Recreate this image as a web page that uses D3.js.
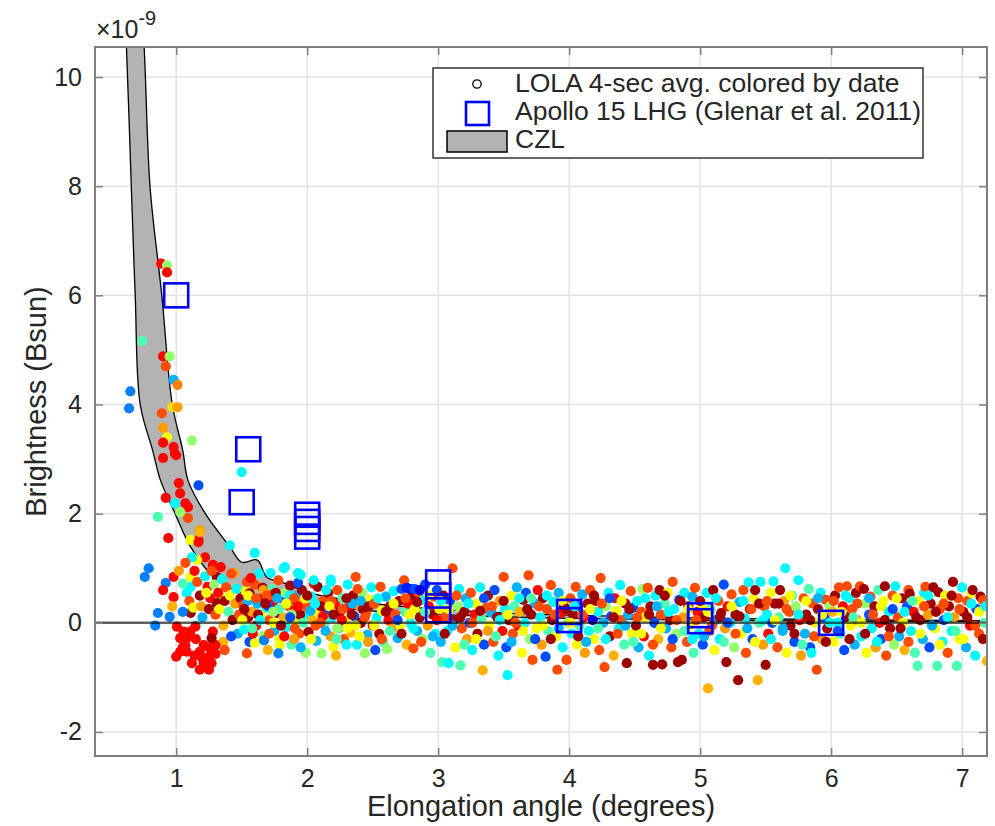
<!DOCTYPE html>
<html>
<head>
<meta charset="utf-8">
<script src="https://cdn.jsdelivr.net/npm/d3@7"></script>
<style>
  html, body { margin: 0; padding: 0; background: #fff; }
  svg text { font-family: "Liberation Sans", Arial, Helvetica, sans-serif; fill: #262626; }
</style>
</head>
<body>
<svg id="chart" width="995" height="826"></svg>
<script>
/* ---------- data (brightness in units of 1e-9 Bsun) ---------- */

const xTicks = [1, 2, 3, 4, 5, 6, 7];
const yTicks = [-2, 0, 2, 4, 6, 8, 10];

// CZL envelope: upper and lower boundary
const czlUpX = [0.70, 0.755, 0.80, 0.89, 0.97, 1.05, 1.09, 1.22, 1.41, 1.50, 1.62, 1.69, 1.82, 2.02, 2.3, 2.6, 3.0, 3.5, 4.0, 5.0, 6.0, 7.3];
const czlUpY = [12.5, 10.55, 8.0, 6.0, 4.0, 3.16, 2.61, 2.01, 1.39, 1.11, 1.15, 0.84, 0.73, 0.55, 0.42, 0.33, 0.25, 0.18, 0.14, 0.09, 0.06, 0.04];
const czlLoX = [0.58, 0.62, 0.657, 0.687, 0.725, 0.82, 0.88, 0.99, 1.11, 1.31, 1.5, 1.7, 2.0, 2.3, 2.6, 3.0, 3.5, 4.0, 5.0, 6.0, 7.3];
const czlLoY = [12.5, 10.55, 8.0, 6.0, 4.0, 3.16, 2.61, 2.01, 1.39, 0.78, 0.55, 0.42, 0.33, 0.26, 0.20, 0.15, 0.11, 0.08, 0.05, 0.03, 0.02];

// Apollo 15 LHG
const apolloX = [1.0, 1.55, 1.5, 2.0, 2.0, 2.0, 2.0, 3.0, 3.0, 3.0, 4.0, 4.0, 5.0, 5.0, 6.0];
const apolloY = [6.0, 3.18, 2.21, 1.98, 1.85, 1.72, 1.58, 0.74, 0.5, 0.23, 0.2, 0.05, 0.14, 0.03, 0.0];

// LOLA 4-sec averages: [elongation, brightness, date (0..1 on jet map)]
const lolaNear = [
  [0.65,4.24,0.25],[0.64,3.93,0.25],[0.74,5.16,0.45],[0.885,6.58,0.87],[0.93,6.55,0.52],[0.93,6.42,0.87],
  [0.9,4.88,0.87],[0.95,4.88,0.52],[0.92,4.7,0.8],[0.98,4.45,0.3],[1.01,4.36,0.75],[0.89,3.84,0.8],
  [0.97,3.95,0.66],[1.01,3.95,0.72],[0.9,3.57,0.72],[0.93,3.4,0.62],[1.12,3.34,0.52],[0.9,3.3,0.87],
  [0.98,3.22,0.87],[1.0,3.07,0.87],[0.9,3.02,0.87],[0.99,3.1,0.87],[1.5,2.76,0.37],[1.02,2.56,0.87],
  [1.17,2.52,0.2],[1.03,2.37,0.87],[0.92,2.29,0.87],[0.86,1.94,0.45],[1.07,2.19,0.87],[1.09,2.12,0.87],
  [1.09,1.92,0.8],[0.99,2.19,0.37],[1.03,2.03,0.52],[1.18,1.7,0.72],[0.94,1.55,0.87],[1.17,1.52,0.87],
  [1.11,1.52,0.62],[1.41,1.42,0.37],[1.6,1.28,0.37],[0.79,1.0,0.25],[0.76,0.84,0.25],[0.98,0.84,0.87],
  [1.11,0.84,0.62],[1.22,1.2,0.87],[1.28,1.06,0.87],[1.34,1.02,0.87],[1.31,0.84,0.97],[1.16,1.15,0.62],
  [1.12,1.2,0.37],[0.92,0.73,0.25],[1.11,0.66,0.37],[1.24,0.66,0.87],[1.26,0.45,0.87],[1.34,0.47,0.62],
  [1.31,0.36,0.97],[0.98,0.47,0.87],[0.86,0.18,0.25],[0.95,0.11,0.25],[1.11,0.18,0.97],[1.44,0.91,0.72],
  [1.02,0.95,0.72],[1.05,0.72,0.45],[1.08,0.55,0.37],[1.1,0.4,0.8],[1.13,0.28,0.62],[1.14,0.95,0.87],
  [1.16,0.75,0.8],[1.18,0.5,0.97],[1.19,0.3,0.72],[1.2,0.1,0.3],[1.22,0.85,0.37],[1.23,0.55,0.62],
  [1.25,0.25,0.97],[1.27,0.95,0.8],[1.29,0.7,0.52],[1.3,0.15,0.8],[1.32,0.55,0.87],[1.33,0.25,0.62],
  [1.35,0.8,0.37],[1.36,-0.05,0.7],[1.37,0.4,0.97],[1.38,0.65,0.8],[1.4,0.2,0.45],[1.41,0.5,0.62],
  [1.42,0.9,0.8],[1.43,0.05,0.97],[1.45,0.35,0.72],[1.46,0.62,0.37],[1.47,-0.2,0.3],[1.48,0.15,0.8],
  [1.49,0.45,0.97],[1.15,-0.05,0.37],[1.36,-0.35,0.7],[1.42,-0.25,0.2],[1.37,-0.5,0.8],[0.97,0.3,0.7],
  [1.05,0.2,0.25],[0.9,0.6,0.87],[0.84,-0.05,0.25],[1.07,1.1,0.8],[1.18,1.66,0.7],[1.17,1.48,0.87],
  [1.005,-0.07,0.87],[1.056,-0.16,0.87],[1.107,-0.16,0.87],[1.145,-0.07,0.87],[1.03,-0.28,0.87],
  [1.08,-0.28,0.87],[1.07,-0.41,0.87],[1.03,-0.53,0.87],[1.08,-0.53,0.87],[1.0,-0.62,0.87],
  [1.21,-0.41,0.87],[1.25,-0.45,0.87],[1.3,-0.41,0.87],[1.18,-0.53,0.87],[1.25,-0.62,0.87],
  [1.3,-0.57,0.87],[1.21,-0.74,0.87],[1.27,-0.74,0.87],[1.18,-0.86,0.87],[1.25,-0.86,0.87],
  [1.12,-0.74,0.87],[1.28,-0.16,0.87],[1.27,-0.28,0.97],[1.15,-0.3,0.87],[1.2,-0.65,0.87],
  [1.23,-0.8,0.87],[1.14,-0.6,0.87],[1.05,-0.45,0.87]
];

const lolaMid = [
  [1.51,0.32,0.8],[1.52,-0.12,0.37],[1.53,0.58,0.62],[1.55,0.1,0.97],[1.56,-0.35,0.2],[1.57,0.44,0.45],
  [1.58,0.2,0.72],[1.6,0.7,0.8],[1.61,-0.05,0.87],[1.62,0.35,0.3],[1.63,0.9,0.37],[1.65,0.15,0.62],
  [1.66,-0.25,0.52],[1.67,0.48,0.97],[1.69,0.28,0.37],[1.7,-0.5,0.7],[1.71,0.05,0.8],[1.73,0.62,0.45],
  [1.74,0.38,0.87],[1.75,-0.15,0.3],[1.77,0.18,0.97],[1.78,0.78,0.8],[1.79,-0.3,0.62],[1.8,0.45,0.2],
  [1.82,0.1,0.7],[1.83,0.55,0.52],[1.84,-0.08,0.37],[1.86,0.3,0.8],[1.87,0.68,0.97],[1.88,-0.4,0.45],
  [1.9,0.22,0.87],[1.91,0.02,0.62],[1.92,0.5,0.3],[1.94,-0.2,0.8],[1.95,0.38,0.72],[1.96,0.6,0.97],
  [1.98,0.12,0.37],[1.99,-0.55,0.52],[2.0,0.28,0.8],[2.01,-0.17,0.97],[2.03,0.48,0.37],[2.04,0.05,0.7],
  [2.05,0.72,0.87],[2.07,-0.33,0.3],[2.08,0.66,0.97],[2.09,0.18,0.62],[2.11,-0.56,0.52],[2.12,0.4,0.8],
  [2.13,-0.02,0.45],[2.15,0.25,0.2],[2.16,0.55,0.97],[2.18,-0.25,0.72],[2.19,0.1,0.37],[2.2,-0.44,0.62],
  [2.21,0.35,0.87],[2.23,0.6,0.8],[2.24,-0.1,0.3],[2.25,0.2,0.97],[2.27,0.45,0.45],[2.28,-0.3,0.8],
  [2.29,0.05,0.62],[2.31,0.7,0.37],[2.32,0.28,0.87],[2.33,-0.18,0.7],[2.35,0.5,0.97],[2.36,0.12,0.2],
  [2.37,0.84,0.8],[2.38,-0.4,0.37],[2.4,0.3,0.72],[2.41,0.0,0.97],[2.42,0.55,0.52],[2.44,-0.56,0.52],
  [2.45,0.18,0.8],[2.46,-0.22,0.3],[2.48,0.42,0.62],[2.49,0.65,0.37],[2.5,-0.05,0.87],
  [1.54,-0.56,0.8],[1.6,-0.37,0.62],[1.79,-0.41,0.62],[1.78,-0.56,0.25],[1.67,-0.32,0.25],
  [1.93,0.73,0.2],[2.05,0.78,0.37],[2.18,0.75,0.37],[1.82,1.0,0.37],[1.93,0.91,0.37],
  [1.72,0.91,0.37],[1.54,0.75,0.8],[1.66,0.64,0.97],[1.72,0.51,0.8],[1.56,0.54,0.97],[1.83,1.02,0.37],
  [1.95,0.88,0.37],[2.18,0.79,0.37],
  [1.505,0.05,0.62],[1.545,0.4,0.3],[1.585,-0.2,0.87],[1.625,0.15,0.97],[1.665,0.6,0.72],[1.705,0.3,0.2],
  [1.745,0.0,0.62],[1.785,0.25,0.45],[1.825,-0.25,0.87],[1.865,0.5,0.37],[1.905,-0.1,0.8],[1.945,0.15,0.97],
  [1.985,0.45,0.62],[2.025,0.22,0.3],[2.065,-0.05,0.8],[2.105,0.3,0.97],[2.145,0.6,0.37],[2.185,0.4,0.8],
  [2.225,-0.3,0.45],[2.265,0.05,0.87],[2.305,-0.1,0.62],[2.345,0.35,0.3],[2.385,0.62,0.8],[2.425,0.25,0.97],
  [2.465,-0.35,0.72],[1.57,0.82,0.87],[1.69,0.5,0.8],[1.76,0.55,0.97],[1.9,0.45,0.8],[2.12,0.12,0.87],
  [2.3,0.45,0.97],[2.22,-0.6,0.7],[1.95,-0.45,0.3],[1.88,0.15,0.52],[2.4,-0.25,0.62],
  [1.52,0.25,0.97],[1.55,0.5,0.62],[1.58,-0.1,0.45],[1.61,0.45,0.8],[1.64,0.05,0.37],[1.68,0.35,0.97],
  [1.71,-0.2,0.8],[1.74,0.2,0.52],[1.77,0.45,0.3],[1.8,-0.05,0.97],[1.84,0.35,0.62],[1.87,0.1,0.2],
  [1.9,-0.3,0.72],[1.93,0.3,0.87],[1.97,0.0,0.45],[2.0,0.5,0.97],[2.03,-0.3,0.62],[2.06,0.35,0.37],
  [2.1,0.0,0.8],[2.14,-0.15,0.3],[2.17,0.3,0.62],[2.2,0.15,0.97],[2.23,-0.1,0.52],[2.27,0.25,0.8],
  [2.3,-0.4,0.37],[2.34,0.15,0.97],[2.37,-0.05,0.62],[2.41,0.4,0.3],[2.44,0.1,0.8],[2.47,0.3,0.97]
];

const lolaFarA = [
  [2.51,0.35,0.8],[2.52,-0.5,0.2],[2.53,0.1,0.37],[2.55,-0.2,0.97],[2.56,0.66,0.8],[2.57,0.22,0.62],
  [2.58,-0.35,0.45],[2.6,0.48,0.3],[2.61,-0.48,0.52],[2.62,0.05,0.87],[2.63,0.3,0.97],[2.65,-0.1,0.72],
  [2.66,0.58,0.37],[2.67,0.15,0.8],[2.69,-0.28,0.3],[2.7,0.4,0.97],[2.71,-0.05,0.62],[2.72,0.62,0.2],
  [2.74,0.78,0.8],[2.75,0.2,0.45],[2.76,-0.4,0.7],[2.77,0.35,0.87],[2.79,0.0,0.37],[2.8,0.5,0.97],
  [2.81,-0.47,0.8],[2.82,0.25,0.62],[2.84,-0.15,0.3],[2.85,0.55,0.8],[2.86,0.1,0.97],[2.88,-0.3,0.52],
  [2.89,0.42,0.37],[2.9,0.7,0.2],[2.92,-0.05,0.72],[2.93,0.3,0.87],[2.94,-0.55,0.45],[2.96,0.15,0.97],
  [2.97,0.48,0.8],[2.98,-0.2,0.37],[2.99,0.6,0.2],[2.76,0.64,0.15],[2.79,0.62,0.15],[2.82,0.62,0.2],
  [2.86,0.6,0.1],
  [3.01,0.25,0.62],[3.02,-0.35,0.3],[3.03,-0.72,0.45],[3.04,0.5,0.97],[3.05,0.1,0.8],[3.07,-0.15,0.37],
  [3.08,-0.74,0.37],[3.09,0.4,0.2],[3.11,1.0,0.8],[3.12,0.05,0.97],[3.13,-0.45,0.62],[3.15,0.3,0.52],
  [3.16,0.62,0.37],[3.17,-0.78,0.45],[3.18,-0.1,0.8],[3.2,0.2,0.97],[3.21,0.45,0.3],[3.22,-0.3,0.72],
  [3.24,0.0,0.2],[3.25,0.55,0.8],[3.26,-0.5,0.37],[3.28,0.15,0.87],[3.29,0.35,0.62],[3.3,-0.2,0.97],
  [3.32,0.65,0.37],[3.33,0.08,0.45],[3.34,-0.87,0.7],[3.35,-0.4,0.2],[3.37,0.28,0.8],[3.38,0.5,0.97],
  [3.39,-0.05,0.62],[3.41,0.18,0.3],[3.42,-0.35,0.8],[3.43,0.6,0.2],[3.45,0.1,0.97],[3.46,-0.6,0.37],
  [3.47,0.4,0.72],[3.49,-0.15,0.87],[3.5,0.84,0.8],
  [3.51,0.25,0.37],[3.52,-0.45,0.2],[3.53,-0.96,0.37],[3.54,0.05,0.97],[3.56,0.5,0.62],[3.57,-0.2,0.8],
  [3.58,0.3,0.45],[3.6,0.65,0.3],[3.61,-0.05,0.87],[3.62,0.2,0.7],[3.64,-0.55,0.62],[3.65,0.42,0.97],
  [3.66,0.0,0.37],[3.67,0.55,0.2],[3.69,0.87,0.8],[3.7,-0.3,0.52],[3.71,0.15,0.97],[3.72,-0.68,0.8],
  [3.74,0.35,0.3],[3.75,-0.1,0.62],[3.76,0.6,0.87],[3.78,0.1,0.37],[3.79,-0.4,0.72],[3.8,0.45,0.97],
  [3.82,-0.62,0.2],[3.83,0.25,0.8],[3.84,-0.15,0.45],[3.86,0.69,0.8],[3.87,0.05,0.97],[3.88,0.38,0.37],
  [3.9,-0.25,0.62],[3.91,-0.86,0.8],[3.92,0.55,0.3],[3.94,0.18,0.87],[3.95,-0.45,0.37],[3.96,0.3,0.97],
  [3.98,-0.68,0.8],[3.99,0.0,0.52],
  [2.51,-0.05,0.62],[2.54,0.45,0.37],[2.57,-0.3,0.8],[2.6,0.2,0.97],[2.63,-0.15,0.45],[2.66,0.35,0.62],
  [2.69,0.05,0.2],[2.72,-0.2,0.97],[2.75,0.45,0.8],[2.78,0.15,0.62],[2.81,-0.1,0.37],[2.84,0.38,0.97],
  [2.87,-0.35,0.8],[2.9,0.2,0.45],[2.93,0.5,0.62],[2.96,-0.25,0.3],[2.99,0.05,0.87],[3.02,0.4,0.37],
  [3.05,-0.2,0.97],[3.08,0.25,0.62],[3.11,-0.05,0.3],[3.14,0.5,0.8],[3.17,0.1,0.97],[3.2,-0.4,0.45],
  [3.23,0.35,0.37],[3.26,0.0,0.8],[3.29,-0.3,0.62],[3.32,0.22,0.97],[3.35,0.45,0.2],[3.38,-0.15,0.72],
  [3.41,0.3,0.8],[3.44,-0.25,0.45],[3.47,0.05,0.37],[3.5,0.4,0.97],[3.53,0.15,0.62],[3.56,-0.35,0.3],
  [3.59,0.0,0.8],[3.62,0.45,0.37],[3.65,-0.15,0.62],[3.68,0.25,0.97],[3.71,0.45,0.45],[3.74,-0.3,0.2],
  [3.77,0.3,0.8],[3.8,-0.05,0.62],[3.83,0.5,0.37],[3.86,-0.3,0.97],[3.89,0.15,0.8],[3.92,-0.1,0.3],
  [3.95,0.4,0.62],[3.98,0.25,0.97]
];

const lolaFarB = [
  [4.01,0.45,0.8],[4.02,-0.2,0.37],[4.03,0.15,0.97],[4.05,0.66,0.8],[4.06,-0.4,0.62],[4.07,0.3,0.2],
  [4.08,-0.05,0.45],[4.1,0.52,0.3],[4.11,0.1,0.87],[4.12,-0.55,0.72],[4.14,0.35,0.97],[4.15,-0.15,0.37],
  [4.16,0.6,0.8],[4.18,0.05,0.1],[4.19,-0.3,0.62],[4.2,0.4,0.97],[4.22,0.2,0.37],[4.23,-0.5,0.8],
  [4.24,0.82,0.8],[4.26,0.0,0.3],[4.27,-0.81,0.8],[4.28,0.3,0.52],[4.3,0.55,0.37],[4.31,-0.25,0.97],
  [4.32,0.12,0.2],[4.34,-0.6,0.7],[4.35,0.45,0.87],[4.36,0.22,0.62],[4.38,-0.1,0.37],[4.39,0.69,0.37],
  [4.4,0.05,0.8],[4.42,-0.4,0.45],[4.43,0.35,0.97],[4.44,-0.74,0.97],[4.45,0.15,0.3],[4.47,0.58,0.8],
  [4.48,-0.2,0.62],[4.49,0.28,0.2],
  [4.51,-0.05,0.97],[4.52,0.4,0.37],[4.53,-0.45,0.3],[4.55,0.2,0.8],[4.56,0.62,0.52],[4.57,-0.25,0.87],
  [4.58,0.1,0.62],[4.6,0.64,0.8],[4.61,-0.6,0.37],[4.62,0.3,0.97],[4.64,-0.77,0.97],[4.65,0.0,0.2],
  [4.66,0.5,0.37],[4.68,-0.3,0.7],[4.69,0.6,0.97],[4.7,0.15,0.8],[4.71,-0.76,0.97],[4.73,0.35,0.45],
  [4.74,-0.1,0.3],[4.75,0.55,0.62],[4.77,0.05,0.97],[4.78,-0.45,0.8],[4.79,0.75,0.8],[4.8,0.25,0.37],
  [4.82,-0.2,0.52],[4.83,-0.72,0.97],[4.84,0.42,0.2],[4.86,-0.68,0.97],[4.87,0.1,0.72],[4.88,0.55,0.37],
  [4.9,-0.35,0.8],[4.91,0.3,0.97],[4.92,-0.05,0.62],[4.94,0.48,0.3],[4.95,-0.55,0.45],[4.96,0.64,0.8],
  [4.98,0.2,0.87],[4.99,-0.2,0.37],
  [5.01,0.35,0.62],[5.02,-0.4,0.2],[5.03,0.1,0.97],[5.05,0.55,0.37],[5.06,-1.2,0.7],[5.07,-0.15,0.8],
  [5.08,0.25,0.45],[5.1,0.6,0.97],[5.11,-0.5,0.62],[5.12,0.05,0.3],[5.14,0.4,0.8],[5.15,-0.3,0.37],
  [5.16,0.18,0.97],[5.18,0.7,0.2],[5.19,-0.1,0.72],[5.2,-0.72,0.97],[5.21,0.3,0.87],[5.23,0.0,0.37],
  [5.24,0.52,0.8],[5.26,-0.45,0.52],[5.27,0.15,0.97],[5.29,-1.05,0.97],[5.3,0.38,0.3],[5.31,-0.2,0.62],
  [5.33,0.6,0.8],[5.34,0.08,0.37],[5.35,-0.55,0.8],[5.37,0.74,0.37],[5.38,0.25,0.97],[5.4,-0.3,0.2],
  [5.41,0.45,0.62],[5.42,0.6,0.97],[5.44,-1.05,0.7],[5.45,0.0,0.45],[5.46,0.75,0.37],[5.48,-0.4,0.72],
  [5.49,0.3,0.8],[5.5,-0.77,0.97],
  [4.01,0.0,0.62],[4.04,0.3,0.37],[4.07,-0.25,0.97],[4.1,0.15,0.8],[4.13,-0.35,0.3],[4.16,0.25,0.62],
  [4.19,0.5,0.97],[4.22,-0.1,0.45],[4.25,0.35,0.8],[4.28,-0.3,0.37],[4.31,0.45,0.2],[4.34,0.1,0.97],
  [4.37,-0.2,0.8],[4.4,0.4,0.62],[4.43,-0.05,0.3],[4.46,0.25,0.97],[4.49,-0.35,0.45],[4.52,0.1,0.8],
  [4.55,-0.2,0.62],[4.58,0.45,0.37],[4.61,0.15,0.97],[4.64,-0.4,0.8],[4.67,0.3,0.3],[4.7,-0.1,0.62],
  [4.73,0.5,0.97],[4.76,0.2,0.37],[4.79,-0.3,0.2],[4.82,0.05,0.8],[4.85,0.4,0.97],[4.88,-0.15,0.45],
  [4.91,0.25,0.62],[4.94,-0.3,0.37],[4.97,0.05,0.8],[5.0,0.4,0.97],[5.03,-0.25,0.3],[5.06,0.2,0.62],
  [5.09,-0.05,0.8],[5.12,0.45,0.37],[5.15,0.1,0.97],[5.18,-0.35,0.45],[5.21,0.0,0.2],[5.24,0.3,0.62],
  [5.27,-0.2,0.8],[5.3,0.12,0.97],[5.33,0.4,0.37],[5.36,-0.1,0.3],[5.39,0.25,0.8],[5.42,-0.35,0.62],
  [5.45,0.35,0.97],[5.48,0.05,0.37]
];

const lolaFarC = [
  [5.51,0.15,0.37],[5.52,-0.2,0.87],[5.54,0.55,0.62],[5.55,0.0,0.2],[5.56,0.76,0.37],[5.57,0.35,0.97],
  [5.59,-0.45,0.8],[5.6,0.1,0.45],[5.61,0.6,0.97],[5.63,-0.15,0.3],[5.64,0.4,0.72],[5.65,1.0,0.37],
  [5.66,-0.55,0.62],[5.68,0.2,0.8],[5.69,-0.05,0.97],[5.7,0.5,0.37],[5.72,-0.35,0.2],[5.73,0.3,0.52],
  [5.75,0.78,0.37],[5.76,0.05,0.87],[5.77,-0.6,0.72],[5.79,0.45,0.8],[5.8,-0.2,0.3],[5.81,0.15,0.97],
  [5.83,0.62,0.45],[5.84,-0.45,0.2],[5.85,-0.55,0.37],[5.86,0.35,0.8],[5.88,0.0,0.62],[5.89,-0.86,0.8],
  [5.9,0.25,0.97],[5.92,0.55,0.37],[5.93,-0.3,0.72],[5.95,0.1,0.2],[5.96,0.42,0.8],[5.97,-0.1,0.97],
  [5.99,0.3,0.52],
  [6.01,0.2,0.7],[6.02,-0.35,0.62],[6.03,0.5,0.97],[6.05,0.0,0.37],[6.06,0.65,0.8],[6.07,-0.2,0.45],
  [6.09,0.3,0.87],[6.1,-0.5,0.2],[6.11,0.12,0.97],[6.12,0.67,0.8],[6.14,0.45,0.37],[6.15,-0.05,0.62],
  [6.16,0.25,0.8],[6.18,-0.4,0.3],[6.19,0.55,0.97],[6.2,0.05,0.72],[6.22,0.67,0.8],[6.23,-0.25,0.37],
  [6.25,0.62,0.97],[6.26,0.35,0.52],[6.27,-0.55,0.62],[6.29,0.15,0.2],[6.3,0.48,0.8],[6.31,-0.1,0.37],
  [6.33,0.3,0.97],[6.34,-0.45,0.72],[6.36,0.6,0.45],[6.37,0.0,0.87],[6.38,-0.3,0.2],[6.4,0.4,0.62],
  [6.41,0.67,0.97],[6.42,-0.6,0.8],[6.44,0.2,0.37],[6.45,-0.1,0.97],[6.47,0.5,0.8],[6.48,-0.4,0.52],
  [6.49,0.67,0.37],
  [6.51,0.1,0.8],[6.52,-0.25,0.3],[6.54,0.45,0.97],[6.55,0.0,0.62],[6.56,-0.5,0.7],[6.58,0.3,0.2],
  [6.59,0.6,0.8],[6.6,0.53,0.97],[6.61,-0.15,0.37],[6.63,0.2,0.87],[6.64,-0.55,0.45],[6.66,-0.79,0.45],
  [6.67,0.4,0.62],[6.68,0.05,0.97],[6.7,-0.3,0.3],[6.71,0.55,0.37],[6.72,0.66,0.8],[6.74,0.15,0.72],
  [6.75,-0.45,0.2],[6.76,0.35,0.97],[6.78,0.65,0.97],[6.79,-0.1,0.62],[6.81,-0.79,0.45],[6.82,0.56,0.97],
  [6.83,0.25,0.8],[6.85,-0.35,0.37],[6.86,0.05,0.2],[6.87,0.5,0.62],[6.89,-0.55,0.8],[6.9,0.3,0.97],
  [6.92,-0.15,0.37],[6.93,0.75,0.97],[6.94,0.1,0.72],[6.96,-0.79,0.45],[6.97,0.45,0.8],[6.98,-0.3,0.62],
  [7.0,0.65,0.37],[7.01,0.2,0.97],[7.03,-0.45,0.3],[7.04,0.4,0.8],[7.06,-0.05,0.87],[7.07,0.55,0.62],
  [7.08,0.6,0.97],[7.1,-0.6,0.37],[7.11,0.25,0.2],[7.13,-0.2,0.8],[7.14,0.48,0.97],[7.16,0.41,0.8],
  [7.17,0.0,0.45],[7.19,-0.7,0.7],
  [5.51,0.4,0.8],[5.54,-0.3,0.37],[5.57,0.05,0.62],[5.6,0.35,0.97],[5.63,-0.1,0.3],[5.66,0.25,0.8],
  [5.69,0.5,0.62],[5.72,-0.2,0.97],[5.75,0.15,0.37],[5.78,-0.4,0.45],[5.81,0.4,0.62],[5.84,0.05,0.97],
  [5.87,-0.25,0.8],[5.9,0.45,0.3],[5.93,0.15,0.62],[5.96,-0.35,0.97],[5.99,0.0,0.37],[6.02,0.4,0.8],
  [6.05,-0.15,0.2],[6.08,0.2,0.62],[6.11,0.5,0.37],[6.14,-0.3,0.97],[6.17,0.1,0.45],[6.2,0.35,0.8],
  [6.23,0.0,0.62],[6.26,-0.2,0.97],[6.29,0.45,0.3],[6.32,0.15,0.8],[6.35,-0.35,0.37],[6.38,0.3,0.62],
  [6.41,0.05,0.97],[6.44,-0.25,0.8],[6.47,0.25,0.2],[6.5,0.45,0.62],[6.53,-0.1,0.97],[6.56,0.2,0.37],
  [6.59,-0.35,0.8],[6.62,0.4,0.45],[6.65,0.1,0.97],[6.68,-0.2,0.62],[6.71,0.3,0.8],[6.74,0.5,0.37],
  [6.77,-0.05,0.3],[6.8,0.2,0.97],[6.83,-0.4,0.62],[6.86,0.35,0.8],[6.89,0.1,0.37],[6.92,0.5,0.97],
  [6.95,-0.15,0.45],[6.98,0.25,0.8],[7.01,-0.3,0.62],[7.04,0.1,0.97],[7.07,0.35,0.37],[7.1,-0.05,0.8],
  [7.13,0.2,0.62],[7.16,-0.3,0.97],[7.18,0.3,0.37]
];

const legendLabels = ["LOLA 4-sec avg. colored by date", "Apollo 15 LHG (Glenar et al. 2011)", "CZL"];

/* ---------- layout ---------- */

const plot = { left: 95, right: 987, top: 47, bottom: 756 };

const svg = d3.select("#chart");

const x = d3.scaleLinear().domain([0.38, 7.19]).range([plot.left, plot.right]);
const y = d3.scaleLinear().domain([-2.44, 10.55]).range([plot.bottom, plot.top]);

// matlab "jet" colormap
function jet(t) {
    const c = v => Math.round(255 * Math.max(0, Math.min(1, v)));
    return `rgb(${c(1.5 - Math.abs(4 * t - 3))},${c(1.5 - Math.abs(4 * t - 2))},${c(1.5 - Math.abs(4 * t - 1))})`;
}

svg.append("defs").append("clipPath").attr("id", "plotClip")
    .append("rect")
    .attr("x", plot.left).attr("y", plot.top)
    .attr("width", plot.right - plot.left).attr("height", plot.bottom - plot.top);

/* grid */
const grid = svg.append("g").attr("stroke", "#e3e3e3").attr("stroke-width", 1.5);
grid.selectAll(".gx").data(xTicks).enter().append("line")
    .attr("x1", d => x(d)).attr("x2", d => x(d))
    .attr("y1", plot.top).attr("y2", plot.bottom);
grid.selectAll(".gy").data(yTicks).enter().append("line")
    .attr("y1", d => y(d)).attr("y2", d => y(d))
    .attr("x1", plot.left).attr("x2", plot.right);

const inner = svg.append("g").attr("clip-path", "url(#plotClip)");

/* CZL band */
const upper = czlUpX.map((v, i) => [v, czlUpY[i]]);
const lower = czlLoX.map((v, i) => [v, czlLoY[i]]);

const line = d3.line().x(d => x(d[0])).y(d => y(d[1])).curve(d3.curveCatmullRom.alpha(0.5));
const bandPath = line(upper) + line(lower.slice().reverse()).replace(/^M/, "L") + "Z";

inner.append("path")
    .attr("d", bandPath)
    .attr("fill", "#b3b3b3")
    .attr("stroke", "none");
inner.append("path").attr("d", line(upper))
    .attr("fill", "none").attr("stroke", "#000").attr("stroke-width", 1.3);
inner.append("path").attr("d", line(lower))
    .attr("fill", "none").attr("stroke", "#000").attr("stroke-width", 1.3);

/* LOLA points */
const lola = lolaNear.concat(lolaMid, lolaFarA, lolaFarB, lolaFarC);
inner.append("g").selectAll("circle")
    .data(lola)
    .enter()
    .append("circle")
    .attr("cx", d => x(d[0]))
    .attr("cy", d => y(d[1]))
    .attr("r", 5.1)
    .attr("fill", d => jet(d[2]));

/* Apollo squares */
const sq = 24;
inner.append("g").selectAll("rect")
    .data(apolloX.map((v, i) => [v, apolloY[i]]))
    .enter()
    .append("rect")
    .attr("x", d => x(d[0]) - sq / 2)
    .attr("y", d => y(d[1]) - sq / 2)
    .attr("width", sq).attr("height", sq)
    .attr("fill", "none")
    .attr("stroke", "#0000ff")
    .attr("stroke-width", 2.6);

/* zero line */
inner.append("line")
    .attr("x1", plot.left).attr("x2", plot.right)
    .attr("y1", y(0)).attr("y2", y(0))
    .attr("stroke", "#000").attr("stroke-opacity", 0.6).attr("stroke-width", 2.5);

/* axes */
const axisColor = "#7f7f7f";
const fmt = d => String(d);
function styleAxis(g) {
    g.select(".domain").remove();
    g.selectAll(".tick line").attr("stroke", axisColor).attr("stroke-width", 1.5);
    g.selectAll(".tick text").attr("fill", "#262626").style("font-size", "25px");
}
svg.append("g").attr("transform", `translate(0,${plot.bottom})`)
    .call(d3.axisBottom(x).tickValues(xTicks).tickSize(-8).tickPadding(13).tickFormat(fmt))
    .call(styleAxis);
svg.append("g").attr("transform", `translate(0,${plot.top})`)
    .call(d3.axisTop(x).tickValues(xTicks).tickSize(-8).tickFormat(""))
    .call(styleAxis);
svg.append("g").attr("transform", `translate(${plot.left},0)`)
    .call(d3.axisLeft(y).tickValues(yTicks).tickSize(-8).tickPadding(13).tickFormat(fmt))
    .call(styleAxis);
svg.append("g").attr("transform", `translate(${plot.right},0)`)
    .call(d3.axisRight(y).tickValues(yTicks).tickSize(-8).tickFormat(""))
    .call(styleAxis);

svg.append("rect")
    .attr("x", plot.left).attr("y", plot.top)
    .attr("width", plot.right - plot.left).attr("height", plot.bottom - plot.top)
    .attr("fill", "none").attr("stroke", axisColor).attr("stroke-width", 2);

/* labels */
svg.append("text")
    .attr("x", (plot.left + plot.right) / 2).attr("y", 816)
    .attr("text-anchor", "middle").style("font-size", "29px")
    .text("Elongation angle (degrees)");
svg.append("text")
    .attr("transform", `translate(46,${(plot.top + plot.bottom) / 2}) rotate(-90)`)
    .attr("text-anchor", "middle").style("font-size", "29px")
    .text("Brightness (Bsun)");

const expo = svg.append("text").attr("x", 96).attr("y", 38).style("font-size", "25px");
expo.append("tspan").text("\u00d710");
expo.append("tspan").attr("dy", -13).style("font-size", "20px").text("-9");

/* legend */
const lg = svg.append("g");
lg.append("rect")
    .attr("x", 433).attr("y", 68).attr("width", 490).attr("height", 90)
    .attr("fill", "#fff").attr("stroke", "#333").attr("stroke-width", 1.5);
lg.append("circle").attr("cx", 477).attr("cy", 84).attr("r", 4.2)
    .attr("fill", "none").attr("stroke", "#000").attr("stroke-width", 1.3);
lg.append("rect").attr("x", 466).attr("y", 102).attr("width", 23).attr("height", 23)
    .attr("fill", "none").attr("stroke", "#0000ff").attr("stroke-width", 2.6);
lg.append("rect").attr("x", 447).attr("y", 131).attr("width", 60).attr("height", 21)
    .attr("fill", "#b3b3b3").attr("stroke", "#000").attr("stroke-width", 1.5);
lg.selectAll(".lt").data(legendLabels).enter().append("text")
    .attr("x", 515)
    .attr("y", (d, i) => 92 + i * 28)
    .style("font-size", "26.5px")
    .text(d => d);
</script>
</body>
</html>
